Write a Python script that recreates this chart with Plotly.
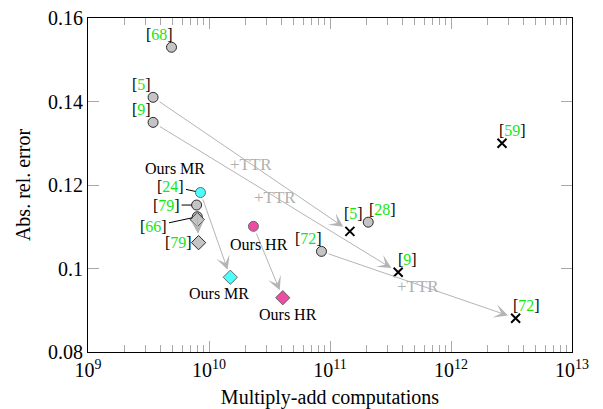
import numpy as np
import plotly.graph_objects as go

# ---------------- data ----------------
# gray circles: prior methods (MR baselines)
circ_refs = ["68", "5", "9", "79", "66", "72", "28"]
circ_x = [4.9e9, 3.45e9, 3.45e9, 7.9e9, 8.0e9, 8.5e10, 2.07e11]
circ_y = [0.153, 0.141, 0.135, 0.1152, 0.1124, 0.1041, 0.1111]

# gray diamonds
diam_refs = ["66", "79"]
diam_x = [8.0e9, 8.2e9]
diam_y = [0.1117, 0.1062]

# black crosses: HR / +TTR methods
cross_refs = ["5", "9", "72", "59"]
cross_x = [1.46e11, 3.66e11, 3.42e12, 2.64e12]
cross_y = [0.1089, 0.0991, 0.0881, 0.1300]

# ours
ours_mr_x = [8.5e9, 1.5e10]
ours_mr_y = [0.1182, 0.0979]
ours_hr_x = [2.33e10, 4.07e10]
ours_hr_y = [0.1101, 0.0930]

x_ticks = [1e9, 1e10, 1e11, 1e12, 1e13]
x_ticktext = ["10<sup>9</sup>", "10<sup>10</sup>", "10<sup>11</sup>", "10<sup>12</sup>", "10<sup>13</sup>"]
y_ticks = [0.08, 0.10, 0.12, 0.14, 0.16]
y_ticktext = ["0.08", "0.1", "0.12", "0.14", "0.16"]

GREEN = "#14e614"
GRAY_FILL = "#c4c4c4"
EDGE = "#2a2a2a"
ARROW = "#b4b4b4"
CYAN = "#00ffff"
PINK = "#e6007e"
FONT = "Liberation Serif"


def ref(n):
    return "[<span style='color:%s'>%s</span>]" % (GREEN, n)


fig = go.Figure()

fig.add_trace(go.Scatter(x=circ_x, y=circ_y, mode="markers",
                         marker=dict(symbol="circle", size=10, color=GRAY_FILL,
                                     line=dict(color=EDGE, width=1)),
                         showlegend=False, hoverinfo="skip"))
fig.add_trace(go.Scatter(x=diam_x, y=diam_y, mode="markers",
                         marker=dict(symbol="diamond", size=11, color=GRAY_FILL,
                                     line=dict(color=EDGE, width=1)),
                         showlegend=False, hoverinfo="skip"))
fig.add_trace(go.Scatter(x=cross_x, y=cross_y, mode="markers",
                         marker=dict(symbol="x-thin", size=9, color="black",
                                     line=dict(color="black", width=2)),
                         showlegend=False, hoverinfo="skip"))
fig.add_trace(go.Scatter(x=ours_mr_x, y=ours_mr_y, mode="markers",
                         marker=dict(symbol=["circle", "diamond"], size=[10, 11], color=CYAN,
                                     line=dict(color=EDGE, width=1)),
                         showlegend=False, hoverinfo="skip"))
fig.add_trace(go.Scatter(x=ours_hr_x, y=ours_hr_y, mode="markers",
                         marker=dict(symbol=["circle", "diamond"], size=[10, 11], color=PINK,
                                     line=dict(color=EDGE, width=1)),
                         showlegend=False, hoverinfo="skip"))

ann = []
lx = np.log10


def arrow(x0, y0, x1, y1, standoff=8):
    ann.append(dict(x=lx(x1), y=y1, ax=lx(x0), ay=y0, xref="x", yref="y",
                    axref="x", ayref="y", text="", showarrow=True,
                    arrowhead=3, arrowsize=2.3, arrowwidth=1, arrowcolor=ARROW,
                    standoff=standoff, startstandoff=6))


# arrows: gray circle -> black cross (+TTR)
arrow(circ_x[1], circ_y[1], cross_x[0], cross_y[0])
arrow(circ_x[2], circ_y[2], cross_x[1], cross_y[1])
arrow(circ_x[5], circ_y[5], cross_x[2], cross_y[2])
# ours MR / HR
arrow(ours_mr_x[0], ours_mr_y[0], ours_mr_x[1], ours_mr_y[1])
arrow(ours_hr_x[0], ours_hr_y[0], ours_hr_x[1], ours_hr_y[1])
# [79] circle -> [79] diamond
arrow(circ_x[3], circ_y[3], diam_x[1], diam_y[1], standoff=9)


def label(x, y, text, dx, dy, color="black", size=16):
    ann.append(dict(x=lx(x), y=y, xref="x", yref="y", text=text, showarrow=False,
                    xanchor="center", yanchor="middle", xshift=dx, yshift=-dy,
                    font=dict(family=FONT, size=size, color=color)))


label(circ_x[0], circ_y[0], ref("68"), -12.5, -12.5)
label(circ_x[1], circ_y[1], ref("5"), -12, -12.5)
label(circ_x[2], circ_y[2], ref("9"), -12, -12.5)
label(circ_x[5], circ_y[5], ref("72"), -13, -13)
label(circ_x[6], circ_y[6], ref("28"), 14, -13)
label(diam_x[1], diam_y[1], ref("79"), -20.5, 0)
label(cross_x[0], cross_y[0], ref("5"), 3.7, -17.4)
label(cross_x[1], cross_y[1], ref("9"), 9.5, -12.6)
label(cross_x[2], cross_y[2], ref("72"), 10.7, -12.5)
label(cross_x[3], cross_y[3], ref("59"), 10.2, -12.4)
label(ours_mr_x[0], ours_mr_y[0], "Ours MR", -25, -23.7)
label(ours_mr_x[1], ours_mr_y[1], "Ours MR", -11, 16.3)
label(ours_hr_x[0], ours_hr_y[0], "Ours HR", 5.7, 17.7)
label(ours_hr_x[1], ours_hr_y[1], "Ours HR", 5.1, 16.4)


def pin(x, y, text, ax, ay):
    ann.append(dict(x=lx(x), y=y, xref="x", yref="y", text=text, showarrow=True,
                    ax=ax, ay=ay, arrowhead=0, arrowwidth=1, arrowcolor="black",
                    standoff=5, font=dict(family=FONT, size=16, color="black")))


pin(ours_mr_x[0], ours_mr_y[0], ref("24"), -29.5, -6.4)
pin(circ_x[3], circ_y[3], ref("79"), -30, 0)
pin(circ_x[4], circ_y[4], ref("66"), -43.3, 9.3)

# +TTR labels (log10 x, y)
ttr_pos = [(10.347, 0.1249), (10.544, 0.1169), (11.724, 0.0958)]
for px, py in ttr_pos:
    ann.append(dict(x=px, y=py, xref="x", yref="y", text="+TTR", showarrow=False,
                    xanchor="center", yanchor="middle",
                    font=dict(family=FONT, size=17, color="#b0b0b0")))

minor_vals = [m * 10 ** e for e in range(9, 13) for m in range(2, 10)]

# page body has an 8px margin, so the figure is 595x401 and offset by 8px
fig.update_layout(
    template="none",
    width=595, height=401,
    margin=dict(l=80, r=31, t=10, b=57, autoexpand=False),
    plot_bgcolor="white", paper_bgcolor="white",
    font=dict(family=FONT, size=20, color="black"),
    annotations=ann,
    xaxis=dict(type="log", range=[9, 13], tickmode="array", tickvals=x_ticks,
               ticktext=x_ticktext, ticks="inside", ticklen=11, tickcolor="#a8a8a8",
               tickwidth=1, showline=True, linecolor="black", linewidth=1,
               mirror="ticks", showgrid=False, zeroline=False, automargin=False,
               ticklabeloverflow="allow",
               tickfont=dict(family=FONT, size=20, color="black"),
               minor=dict(tickmode="array", tickvals=minor_vals, ticks="inside",
                          ticklen=7, tickcolor="#a8a8a8", tickwidth=1, showgrid=False),
               title=dict(text="Multiply-add computations", standoff=10,
                          font=dict(family=FONT, size=20, color="black"))),
    yaxis=dict(range=[0.08, 0.16], tickmode="array", tickvals=y_ticks,
               ticktext=y_ticktext, ticks="inside", ticklen=11, tickcolor="#a8a8a8",
               tickwidth=1, showline=True, linecolor="black", linewidth=1,
               mirror="ticks", showgrid=False, zeroline=False, automargin=False,
               ticklabeloverflow="allow",
               tickfont=dict(family=FONT, size=20, color="black"),
               title=dict(text="Abs. rel. error", standoff=12,
                          font=dict(family=FONT, size=20, color="black"))),
)

fig.write_html("out.html")
